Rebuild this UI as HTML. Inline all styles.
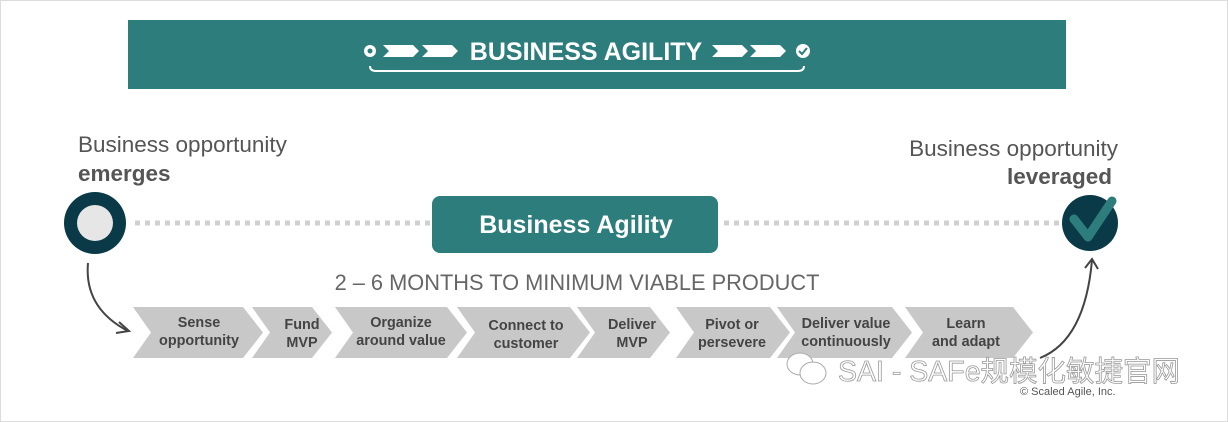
<!DOCTYPE html>
<html><head><meta charset="utf-8"><style>
html,body{margin:0;padding:0;background:#fff}
svg{display:block}
text{font-family:"Liberation Sans",Arial,sans-serif}
</style></head><body>
<svg width="1228" height="422" viewBox="0 0 1228 422" xmlns="http://www.w3.org/2000/svg">
<rect x="0.5" y="0.5" width="1227" height="421" fill="#fff" stroke="#dcdcdc"/>
<rect x="128" y="20" width="938" height="69" fill="#2e7d7d"/>
<circle cx="370" cy="51" r="6" fill="#fff"/><circle cx="370" cy="51" r="2.5" fill="#2e7d7d"/>
<path d="M383 45h30l6 6-6 6h-30l6-6z" fill="#fff"/>
<path d="M422 45h30l6 6-6 6h-30l6-6z" fill="#fff"/>
<path d="M712 45h30l6 6-6 6h-30l6-6z" fill="#fff"/>
<path d="M750 45h30l6 6-6 6h-30l6-6z" fill="#fff"/>
<circle cx="803" cy="51" r="7" fill="#fff"/><path d="M799 51l3 3 5-6" stroke="#2e7d7d" stroke-width="2" fill="none"/>
<text x="586" y="60" font-size="25" font-weight="bold" fill="#fff" text-anchor="middle">BUSINESS AGILITY</text>
<path d="M370 66q0 5 6 5h422q6 0 6-5" stroke="#fff" stroke-width="2" fill="none"/>

<text x="78" y="152" font-size="22.5" fill="#555">Business opportunity</text>
<text x="78" y="181" font-size="22.5" font-weight="bold" fill="#555">emerges</text>
<text x="1118" y="156" font-size="22.5" fill="#555" text-anchor="end">Business opportunity</text>
<text x="1112" y="184" font-size="22.5" font-weight="bold" fill="#555" text-anchor="end">leveraged</text>

<line x1="135" y1="223" x2="432" y2="223" stroke="#d0d0d0" stroke-width="5" stroke-dasharray="5 5"/>
<line x1="724" y1="223" x2="1062" y2="223" stroke="#d0d0d0" stroke-width="5" stroke-dasharray="5 5"/>
<circle cx="95" cy="223" r="31" fill="#0a3a47"/><circle cx="95" cy="223" r="18" fill="#e6e6e6"/>
<circle cx="1090" cy="223" r="28" fill="#0a3a47"/>
<path d="M1074 219l14 18 24-36" stroke="#2e7d7d" stroke-width="9" fill="none" stroke-linecap="round" stroke-linejoin="round"/>
<rect x="432" y="196" width="286" height="57" rx="8" fill="#2e7d7d"/>
<text x="576" y="233" font-size="25" font-weight="bold" fill="#fff" text-anchor="middle">Business Agility</text>

<text x="577" y="290" font-size="21.8" fill="#666" text-anchor="middle">2 – 6 MONTHS TO MINIMUM VIABLE PRODUCT</text>

<g fill="#c8c8c8">
<path d="M133 307h110l20 25.5-20 25.5h-110l18-25.5z"/>
<path d="M252 307h60l20 25.5-20 25.5h-60l18-25.5z"/>
<path d="M335 307h112l20 25.5-20 25.5h-112l18-25.5z"/>
<path d="M457 307h113l20 25.5-20 25.5h-113l18-25.5z"/>
<path d="M577 307h73l20 25.5-20 25.5h-73l18-25.5z"/>
<path d="M676 307h94l20 25.5-20 25.5h-94l18-25.5z"/>
<path d="M777 307h115l20 25.5-20 25.5h-115l18-25.5z"/>
<path d="M905 307h108l20 25.5-20 25.5h-108l18-25.5z"/>
</g>
<g font-size="14.4" font-weight="bold" fill="#444" text-anchor="middle">
<text x="199" y="327">Sense</text><text x="199" y="345">opportunity</text>
<text x="302" y="329">Fund</text><text x="302" y="347">MVP</text>
<text x="401" y="327">Organize</text><text x="401" y="345">around value</text>
<text x="526" y="330">Connect to</text><text x="526" y="348">customer</text>
<text x="632" y="329">Deliver</text><text x="632" y="347">MVP</text>
<text x="732" y="329">Pivot or</text><text x="732" y="347">persevere</text>
<text x="846" y="328">Deliver value</text><text x="846" y="346">continuously</text>
<text x="966" y="328">Learn</text><text x="966" y="346">and adapt</text>
</g>
<path d="M88 263q-4 45 40 68" stroke="#444" stroke-width="2" fill="none"/>
<path d="M119 322l10 9-13 2" stroke="#444" stroke-width="2" fill="none"/>
<path d="M1040 358q45-18 52-98" stroke="#444" stroke-width="2" fill="none"/>
<path d="M1085 268l7-9 6 10" stroke="#444" stroke-width="2" fill="none"/>

<g stroke="#aaa" fill="#fff" stroke-width="1">
<ellipse cx="800" cy="364" rx="13" ry="11"/><ellipse cx="813" cy="373" rx="13" ry="11"/>
</g>
<text x="838" y="381" font-size="28.5" fill="#fff" stroke="#999" stroke-width="0.8" font-family="Liberation Sans, Noto Sans CJK SC, sans-serif">SAI - SAFe规模化敏捷官网</text>
<text x="1020" y="395" font-size="11" fill="#555">© Scaled Agile, Inc.</text>
</svg>
</body></html>
